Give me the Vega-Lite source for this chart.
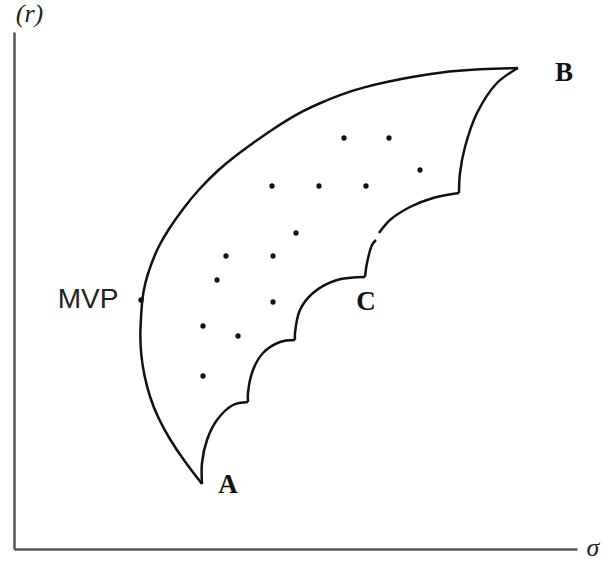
{
  "$schema": "https://vega.github.io/schema/vega-lite/v6.json",
  "width": 563,
  "height": 517,
  "autosize": {"type": "none"},
  "padding": {"left": 14, "top": 32, "right": 32, "bottom": 13},
  "background": "white",
  "config": {
    "view": {"stroke": null},
    "axis": {"grid": false, "ticks": false, "labels": false, "domainColor": "#555555", "domainWidth": 2.5}
  },
  "datasets": {
    "curves": [
      {"seg": "outer", "i": 0, "sigma": 188, "r": 65},
      {"seg": "outer", "i": 1, "sigma": 171, "r": 87},
      {"seg": "outer", "i": 2, "sigma": 156, "r": 109},
      {"seg": "outer", "i": 3, "sigma": 144, "r": 131},
      {"seg": "outer", "i": 4, "sigma": 136, "r": 151},
      {"seg": "outer", "i": 5, "sigma": 130, "r": 174},
      {"seg": "outer", "i": 6, "sigma": 127, "r": 194},
      {"seg": "outer", "i": 7, "sigma": 126, "r": 214},
      {"seg": "outer", "i": 8, "sigma": 127, "r": 231},
      {"seg": "outer", "i": 9, "sigma": 128, "r": 249},
      {"seg": "outer", "i": 10, "sigma": 131, "r": 266},
      {"seg": "outer", "i": 11, "sigma": 136, "r": 282},
      {"seg": "outer", "i": 12, "sigma": 144, "r": 302},
      {"seg": "outer", "i": 13, "sigma": 154, "r": 319},
      {"seg": "outer", "i": 14, "sigma": 168, "r": 339},
      {"seg": "outer", "i": 15, "sigma": 184, "r": 359},
      {"seg": "outer", "i": 16, "sigma": 204, "r": 379},
      {"seg": "outer", "i": 17, "sigma": 221, "r": 393},
      {"seg": "outer", "i": 18, "sigma": 239, "r": 406},
      {"seg": "outer", "i": 19, "sigma": 256, "r": 418},
      {"seg": "outer", "i": 20, "sigma": 273, "r": 429},
      {"seg": "outer", "i": 21, "sigma": 289, "r": 438},
      {"seg": "outer", "i": 22, "sigma": 306, "r": 446},
      {"seg": "outer", "i": 23, "sigma": 326, "r": 454},
      {"seg": "outer", "i": 24, "sigma": 346, "r": 461},
      {"seg": "outer", "i": 25, "sigma": 386, "r": 470},
      {"seg": "outer", "i": 26, "sigma": 426, "r": 477},
      {"seg": "outer", "i": 27, "sigma": 466, "r": 480},
      {"seg": "outer", "i": 28, "sigma": 504, "r": 481},
      {"seg": "in1", "i": 0, "sigma": 504, "r": 481},
      {"seg": "in1", "i": 1, "sigma": 483, "r": 466},
      {"seg": "in1", "i": 2, "sigma": 463, "r": 436},
      {"seg": "in1", "i": 3, "sigma": 451, "r": 402},
      {"seg": "in1", "i": 4, "sigma": 446, "r": 376},
      {"seg": "in1", "i": 5, "sigma": 445, "r": 356},
      {"seg": "in2", "i": 0, "sigma": 445, "r": 356},
      {"seg": "in2", "i": 1, "sigma": 419, "r": 351},
      {"seg": "in2", "i": 2, "sigma": 396, "r": 342},
      {"seg": "in2", "i": 3, "sigma": 376, "r": 329},
      {"seg": "in2", "i": 4, "sigma": 365, "r": 316},
      {"seg": "in3", "i": 0, "sigma": 362, "r": 309},
      {"seg": "in3", "i": 1, "sigma": 358, "r": 304},
      {"seg": "in3", "i": 2, "sigma": 353, "r": 286},
      {"seg": "in3", "i": 3, "sigma": 351, "r": 272},
      {"seg": "in4", "i": 0, "sigma": 351, "r": 272},
      {"seg": "in4", "i": 1, "sigma": 323, "r": 269},
      {"seg": "in4", "i": 2, "sigma": 299, "r": 256},
      {"seg": "in4", "i": 3, "sigma": 286, "r": 239},
      {"seg": "in4", "i": 4, "sigma": 281, "r": 216},
      {"seg": "in4", "i": 5, "sigma": 281, "r": 209},
      {"seg": "in5", "i": 0, "sigma": 281, "r": 209},
      {"seg": "in5", "i": 1, "sigma": 266, "r": 207},
      {"seg": "in5", "i": 2, "sigma": 249, "r": 196},
      {"seg": "in5", "i": 3, "sigma": 239, "r": 179},
      {"seg": "in5", "i": 4, "sigma": 234, "r": 156},
      {"seg": "in5", "i": 5, "sigma": 234, "r": 147},
      {"seg": "in6", "i": 0, "sigma": 234, "r": 147},
      {"seg": "in6", "i": 1, "sigma": 219, "r": 144},
      {"seg": "in6", "i": 2, "sigma": 203, "r": 129},
      {"seg": "in6", "i": 3, "sigma": 193, "r": 109},
      {"seg": "in6", "i": 4, "sigma": 188, "r": 86},
      {"seg": "in6", "i": 5, "sigma": 188, "r": 65}
    ],
    "dots": [
      {"sigma": 330, "r": 411},
      {"sigma": 375, "r": 411},
      {"sigma": 406, "r": 379},
      {"sigma": 258, "r": 363},
      {"sigma": 305, "r": 363},
      {"sigma": 352, "r": 363},
      {"sigma": 282, "r": 316},
      {"sigma": 212, "r": 293},
      {"sigma": 259, "r": 293},
      {"sigma": 203, "r": 269},
      {"sigma": 259, "r": 247},
      {"sigma": 189, "r": 223},
      {"sigma": 224, "r": 213},
      {"sigma": 189, "r": 173},
      {"sigma": 127, "r": 249}
    ],
    "labels": [
      {"label": "A", "sigma": 214, "r": 64},
      {"label": "B", "sigma": 550, "r": 476},
      {"label": "C", "sigma": 352, "r": 247}
    ],
    "mvp": [
      {"label": "MVP", "sigma": 74, "r": 249}
    ]
  },
  "layer": [
    {
      "data": {"name": "curves"},
      "transform": [{"filter": "datum.seg === 'outer'"}],
      "mark": {"type": "line", "interpolate": "basis", "color": "#111111", "strokeWidth": 2.5},
      "encoding": {
        "x": {"field": "sigma", "type": "quantitative", "scale": {"domain": [0, 563], "nice": false, "zero": false},
              "axis": {"title": "σ", "titleFont": "Liberation Serif", "titleFontStyle": "italic", "titleFontWeight": "normal", "titleFontSize": 26, "titleColor": "#222222", "titleAlign": "left", "titleBaseline": "middle", "titleX": 572, "titleY": -2}},
        "y": {"field": "r", "type": "quantitative", "scale": {"domain": [0, 517], "nice": false, "zero": false},
              "axis": {"title": "(r)", "titleFont": "Liberation Serif", "titleFontStyle": "italic", "titleFontWeight": "normal", "titleFontSize": 26, "titleColor": "#222222", "titleAngle": 0, "titleAlign": "center", "titleBaseline": "alphabetic", "titleX": 15, "titleY": -11}},
        "order": {"field": "i", "type": "quantitative"}
      }
    },
    {
      "data": {"name": "curves"},
      "transform": [{"filter": "datum.seg !== 'outer'"}],
      "mark": {"type": "line", "interpolate": "catmull-rom", "color": "#111111", "strokeWidth": 2.5},
      "encoding": {
        "x": {"field": "sigma", "type": "quantitative"},
        "y": {"field": "r", "type": "quantitative"},
        "detail": {"field": "seg"},
        "order": {"field": "i", "type": "quantitative"}
      }
    },
    {
      "data": {"name": "dots"},
      "mark": {"type": "point", "filled": true, "color": "#111111", "size": 28, "opacity": 1},
      "encoding": {
        "x": {"field": "sigma", "type": "quantitative"},
        "y": {"field": "r", "type": "quantitative"}
      }
    },
    {
      "data": {"name": "labels"},
      "mark": {"type": "text", "font": "Liberation Serif", "fontWeight": "bold", "fontSize": 27, "color": "#111111", "align": "center", "baseline": "middle"},
      "encoding": {
        "x": {"field": "sigma", "type": "quantitative"},
        "y": {"field": "r", "type": "quantitative"},
        "text": {"field": "label"}
      }
    },
    {
      "data": {"name": "mvp"},
      "mark": {"type": "text", "font": "Liberation Sans", "fontSize": 28, "color": "#222222", "align": "center", "baseline": "middle"},
      "encoding": {
        "x": {"field": "sigma", "type": "quantitative"},
        "y": {"field": "r", "type": "quantitative"},
        "text": {"field": "label"}
      }
    }
  ]
}
